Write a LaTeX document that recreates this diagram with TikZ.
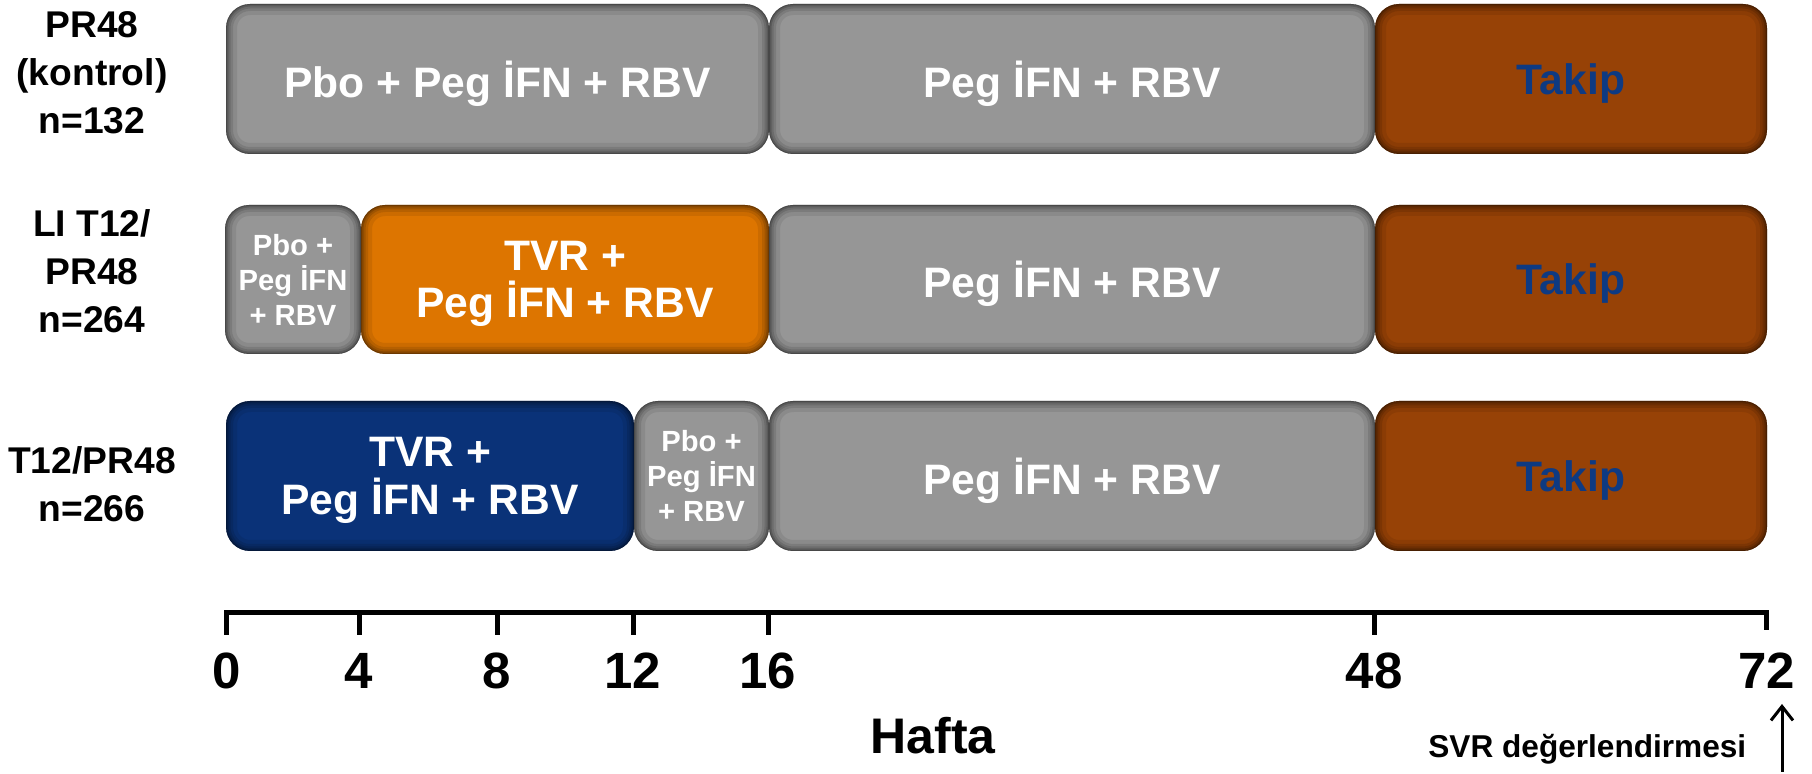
\documentclass[tikz,border=0pt]{standalone}
\usepackage{fontspec}
\setmainfont{Liberation Sans}
\usetikzlibrary{arrows.meta}

\definecolor{cgray}{RGB}{150,150,150}
\definecolor{corange}{RGB}{221,117,0}
\definecolor{cnavy}{RGB}{10,50,120}
\definecolor{cbrown}{RGB}{151,66,6}
\definecolor{ctakip}{RGB}{14,58,130}

\tikzset{
  % treatment phase bar with darkened (bevelled) edges
  phase/.style={inner sep=0pt, outer sep=0pt, rounded corners=12pt, fill=#1,
    text=white, align=center, text depth=0pt,
    font=\bfseries\fontsize{21.3}{23.7}\selectfont,
    path picture={
      \foreach \w/\o in {11/0.08,7/0.10,4.5/0.12,2.5/0.15,1/0.2}{
        \draw[black, opacity=\o, line width=\w pt, rounded corners=12pt]
          (path picture bounding box.south west) rectangle
          (path picture bounding box.north east);}}},
  smalltext/.style={font=\bfseries\fontsize{14.6}{17.5}\selectfont},
  takip/.style={phase=cbrown, text=ctakip},
  armlabel/.style={align=center, font=\bfseries\fontsize{18.6}{24}\selectfont},
  weeknum/.style={font=\bfseries\fontsize{25.5}{30}\selectfont, inner sep=0pt},
  axisline/.style={line width=2.5pt, line join=miter, line cap=butt},
}

\begin{document}
\begin{tikzpicture}[x=0.5pt, y=-0.5pt]
\useasboundingbox (0,0) rectangle (1812,774);

% arm labels
\node[armlabel] (l1) at (92,73) {PR48\\(kontrol)\\n=132};
\node[armlabel] (l2) at (92,271) {LI T12/\\PR48\\n=264};
\node[armlabel] (l3) at (92,484) {T12/PR48\\n=266};

% arm 1: PR48 (control)
\node[phase=cgray, minimum width=271.5pt, minimum height=75pt] (r1a) at (497.5,79) {Pbo + Peg İFN + RBV};
\node[phase=cgray, minimum width=303pt, minimum height=75pt] (r1b) at (1072,79) {Peg İFN + RBV};
\node[takip, minimum width=196pt, minimum height=75pt] (r1c) at (1571,79) {Takip};

% arm 2: LI T12/PR48
\node[phase=cgray, smalltext, minimum width=68pt, minimum height=74.5pt] (r2a) at (293,279.5) {Pbo +\\Peg İFN\\+ RBV};
\node[phase=corange, minimum width=204pt, minimum height=74.5pt] (r2b) at (565,279.5) {TVR +\\Peg İFN + RBV};
\node[phase=cgray, minimum width=303pt, minimum height=74.5pt] (r2c) at (1072,279.5) {Peg İFN + RBV};
\node[takip, minimum width=196pt, minimum height=74.5pt] (r2d) at (1571,279.5) {Takip};

% arm 3: T12/PR48
\node[phase=cnavy, minimum width=204pt, minimum height=75pt] (r3a) at (430,476) {TVR +\\Peg İFN + RBV};
\node[phase=cgray, smalltext, minimum width=67.5pt, minimum height=75pt] (r3b) at (701.5,476) {Pbo +\\Peg İFN\\+ RBV};
\node[phase=cgray, minimum width=303pt, minimum height=75pt] (r3c) at (1072,476) {Peg İFN + RBV};
\node[takip, minimum width=196pt, minimum height=75pt] (r3d) at (1571,476) {Takip};

% week axis
\foreach \x/\n in {226.7/0,359/4,497/8,633/12,768/16,1374/48,1766.7/72}{
  \coordinate (k\n) at (\x,613);
  \node[weeknum] (n\n) at (\x,671) {\n};
}
\draw[axisline] (k0) ++(0,22) -- (k0) -- (k72) -- ++(0,17);
\foreach \n in {4,8,12,16,48}{
  \draw[axisline] (k\n) -- ++(0,22);
}

\node[font=\bfseries\fontsize{25}{30}\selectfont, anchor=base, inner sep=0pt] (hafta) at (933,754) {Hafta};

% SVR assessment marker
\node[font=\bfseries\fontsize{15.8}{19}\selectfont, anchor=base west, inner sep=0pt] (svr) at (1428,758) {SVR değerlendirmesi};
\coordinate (svrbot) at (1782,772);
\coordinate (svrtop) at (1782,704);
\draw[line width=1.5pt, -{Straight Barb[length=7pt,width=11pt]}] (svrbot) -- (svrtop);
\end{tikzpicture}
\end{document}
